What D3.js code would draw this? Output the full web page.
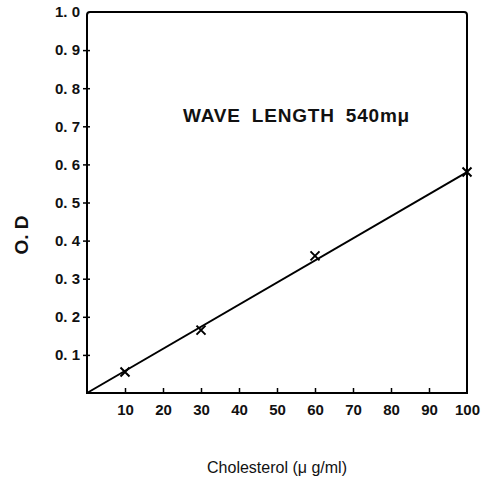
<!DOCTYPE html>
<html lang="en">
<head>
    <meta charset="UTF-8">
    <title>Cholesterol calibration</title>
    <script src="https://d3js.org/d3.v7.min.js"></script>
    <style>
        body {
            margin: 0;
            background-color: #ffffff;
            font-family: "Liberation Sans", Arial, sans-serif;
        }
        svg {
            display: block;
        }
        .tick text {
            font-size: 15px;
            font-weight: bold;
            fill: #111;
        }
    </style>
</head>
<body>
    <svg id="chart" width="482" height="481"></svg>

    <script>
        // measured points (concentration, optical density)
        const concentrations = [10, 30, 60, 100];
        const odValues = [0.055, 0.165, 0.36, 0.58];
        // calibration line end points
        const lineX = [0, 100];
        const lineY = [0, 0.58];
        const xTicks = [10, 20, 30, 40, 50, 60, 70, 80, 90, 100];
        const yTicks = [0.1, 0.2, 0.3, 0.4, 0.5, 0.6, 0.7, 0.8, 0.9, 1.0];

        const svg = d3.select("#chart");
        const plotLeft = 87, plotRight = 467, plotTop = 12, plotBottom = 393;

        const x = d3.scaleLinear().domain([0, 100]).range([plotLeft, plotRight]);
        const y = d3.scaleLinear().domain([0, 1]).range([plotBottom, plotTop]);

        // frame
        svg.append("path")
            .attr("d", `M${plotLeft},${plotBottom} L${plotLeft},${plotTop + 3} Q${plotLeft},${plotTop} ${plotLeft + 3},${plotTop} L${plotRight - 3},${plotTop} Q${plotRight},${plotTop} ${plotRight},${plotTop + 3} L${plotRight},${plotBottom} Z`)
            .attr("fill", "none")
            .attr("stroke", "#000")
            .attr("stroke-width", 2);

        // x axis: ticks point up into the plot
        const xAxis = d3.axisBottom(x)
            .tickValues(xTicks)
            .tickSize(0)
            .tickPadding(11)
            .tickFormat(d3.format("d"));
        const gx = svg.append("g").attr("transform", `translate(0,${plotBottom})`).call(xAxis);
        gx.select(".domain").remove();
        gx.selectAll(".tick")
            .filter(d => d < 100)
            .append("line")
            .attr("y1", 0).attr("y2", -5)
            .attr("stroke", "#000").attr("stroke-width", 1.5);

        // y axis: short ticks crossing the frame
        const yAxis = d3.axisLeft(y)
            .tickValues(yTicks)
            .tickSize(0)
            .tickPadding(7)
            .tickFormat(d => d3.format(".1f")(d).replace(".", ". "));
        const gy = svg.append("g").attr("transform", `translate(${plotLeft},0)`).call(yAxis);
        gy.select(".domain").remove();
        gy.selectAll(".tick")
            .filter(d => d < 1)
            .append("line")
            .attr("x1", -4).attr("x2", 3)
            .attr("stroke", "#000").attr("stroke-width", 1.5);

        // fitted line
        const line = d3.line().x(d => x(d[0])).y(d => y(d[1]));
        svg.append("path")
            .datum(d3.zip(lineX, lineY))
            .attr("d", line)
            .attr("fill", "none")
            .attr("stroke", "#000")
            .attr("stroke-width", 2);

        // x markers
        const pts = d3.zip(concentrations, odValues);
        const s = 4.5;
        svg.selectAll(".mark")
            .data(pts)
            .enter().append("path")
            .attr("class", "mark")
            .attr("d", d => {
                const cx = x(d[0]), cy = y(d[1]);
                return `M${cx - s},${cy - s} L${cx + s},${cy + s} M${cx - s},${cy + s} L${cx + s},${cy - s}`;
            })
            .attr("stroke", "#000")
            .attr("stroke-width", 2);

        // annotation
        svg.append("text")
            .attr("x", 183).attr("y", 122)
            .attr("font-size", 19)
            .attr("font-weight", "bold")
            .attr("letter-spacing", 0.8)
            .attr("word-spacing", 5)
            .attr("fill", "#111")
            .text("WAVE LENGTH 540mμ");

        // axis titles
        svg.append("text")
            .attr("x", (plotLeft + plotRight) / 2).attr("y", 473)
            .attr("text-anchor", "middle")
            .attr("font-size", 16)
            .attr("fill", "#111")
            .text("Cholesterol (μ g/ml)");

        svg.append("text")
            .attr("transform", "translate(28,235) rotate(-90)")
            .attr("text-anchor", "middle")
            .attr("font-size", 19)
            .attr("font-weight", "bold")
            .attr("fill", "#111")
            .text("O. D");
    </script>
</body>
</html>
